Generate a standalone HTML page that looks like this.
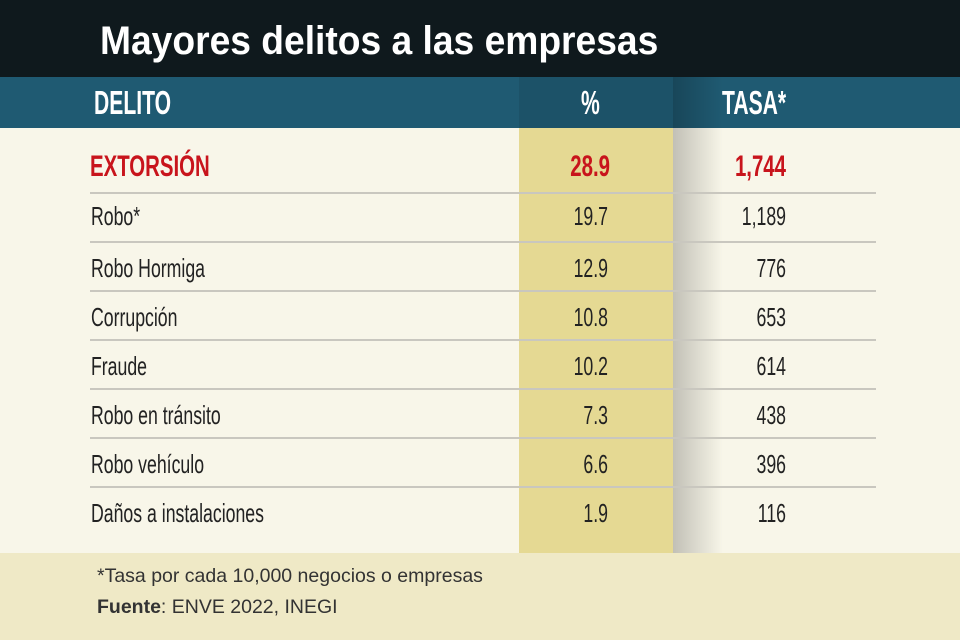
<!DOCTYPE html><html><head><meta charset="utf-8"><style>
body{margin:0;width:960px;height:640px;overflow:hidden;background:#f8f6e9;font-family:"Liberation Sans",sans-serif;position:relative}
div{position:absolute;white-space:nowrap}
.t{left:0;top:0;width:960px;height:77px;background:#0f191d}
.h{left:0;top:77px;width:960px;height:51px;background:#1f5a72}
.y{left:519px;top:128px;width:154px;height:425px;background:#e5d993}
.yh{left:519px;top:77px;width:154px;height:51px;background:#1c5268}
.sh{left:673px;top:77px;width:50px;height:476px;background:linear-gradient(90deg,rgba(0,0,0,.22),rgba(0,0,0,0))}
.f{left:0;top:553px;width:960px;height:87px;background:#efe9c6}
.ln{left:90px;width:786px;height:2px;background:#c9c7bf}
.r{font-size:26px;color:#222;height:30px;line-height:30px;transform:scaleX(.68);transform-origin:left center}
.n{text-align:right;width:100px;transform-origin:right center}
.hd{color:#fff;font-weight:bold;font-size:33px;top:84px;line-height:38px;transform:scaleX(.64);transform-origin:left center}
.red{color:#c8141c;font-weight:bold;font-size:30px}
</style></head><body>
<div class="t"></div><div class="h"></div><div class="y"></div><div class="yh"></div><div class="sh"></div><div class="f"></div>
<div style="left:100px;top:14px;color:#fff;font-weight:bold;font-size:40px;line-height:54px;transform:scaleX(.93);transform-origin:left center">Mayores delitos a las empresas</div>
<div class="hd" style="left:94px">DELITO</div>
<div class="hd" style="left:581px">%</div>
<div class="hd" style="left:722px">TASA*</div>
<div class="ln" style="top:192px"></div><div class="ln" style="top:241px"></div><div class="ln" style="top:290px"></div><div class="ln" style="top:339px"></div><div class="ln" style="top:388px"></div><div class="ln" style="top:437px"></div><div class="ln" style="top:486px"></div>
<div class="r red" style="left:90px;top:152px">EXTORSIÓN</div><div class="r red n" style="left:510px;top:152px">28.9</div><div class="r red n" style="left:686px;top:152px">1,744</div>
<div class="r" style="left:91px;top:201px">Robo*</div><div class="r n" style="left:508px;top:201px">19.7</div><div class="r n" style="left:686px;top:201px">1,189</div>
<div class="r" style="left:91px;top:253px">Robo Hormiga</div><div class="r n" style="left:508px;top:253px">12.9</div><div class="r n" style="left:686px;top:253px">776</div>
<div class="r" style="left:91px;top:302px">Corrupción</div><div class="r n" style="left:508px;top:302px">10.8</div><div class="r n" style="left:686px;top:302px">653</div>
<div class="r" style="left:91px;top:351px">Fraude</div><div class="r n" style="left:508px;top:351px">10.2</div><div class="r n" style="left:686px;top:351px">614</div>
<div class="r" style="left:91px;top:400px">Robo en tránsito</div><div class="r n" style="left:508px;top:400px">7.3</div><div class="r n" style="left:686px;top:400px">438</div>
<div class="r" style="left:91px;top:449px">Robo vehículo</div><div class="r n" style="left:508px;top:449px">6.6</div><div class="r n" style="left:686px;top:449px">396</div>
<div class="r" style="left:91px;top:498px">Daños a instalaciones</div><div class="r n" style="left:508px;top:498px">1.9</div><div class="r n" style="left:686px;top:498px">116</div>
<div style="left:97px;top:565px;font-size:19.5px;color:#333">*Tasa por cada 10,000 negocios o empresas</div>
<div style="left:97px;top:596px;font-size:19.5px;color:#333"><b>Fuente</b>: ENVE 2022, INEGI</div>
</body></html>
